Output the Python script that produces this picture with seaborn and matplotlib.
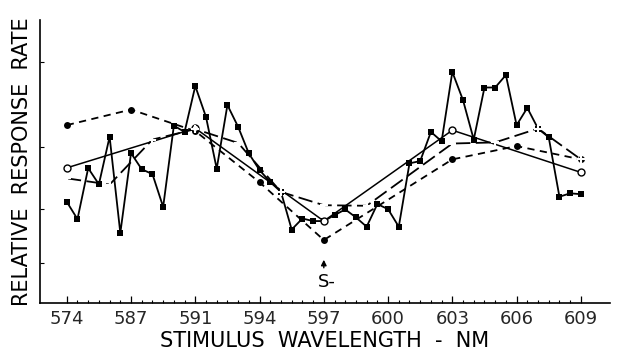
import matplotlib
matplotlib.use("Agg")
import matplotlib.pyplot as plt
import numpy as np
import seaborn as sns

sns.set_theme(style="white")
plt.rcParams['font.family'] = ['DejaVu Sans']

# x axis is an index of stimulus steps (6 steps between labelled wavelengths)
tick_steps = [0, 6, 12, 18, 24, 30, 36, 42, 48]
tick_labels = ['574', '587', '591', '594', '597', '600', '603', '606', '609']

# jagged gradient, solid line with filled squares (one point per step)
sq_steps = list(range(49))
sq_vals = [35.8, 29.7, 47.7, 42.0, 58.8, 24.8, 53.0, 47.3, 45.6, 34.0,
           62.7, 60.5, 76.7, 65.8, 47.5, 70.0, 62.3, 52.9, 47.0, 42.8,
           39.3, 26.0, 29.9, 29.0, 29.0, 31.1, 33.1, 30.3, 27.0, 35.0,
           33.2, 27.0, 49.4, 50.2, 60.5, 57.2, 81.7, 71.7, 57.8, 76.2,
           76.2, 80.6, 62.9, 69.0, 61.7, 58.6, 37.6, 38.8, 38.5]

# short-dashed, filled circles
dot_steps = [0, 6, 12, 18, 24, 36, 42, 48]
dot_vals = [62.9, 68.4, 60.8, 42.7, 22.3, 50.8, 55.5, 50.8]

# solid, open circles
open_steps = [0, 12, 24, 36, 48]
open_vals = [47.8, 61.8, 29.0, 61.1, 46.2]

# long-dashed, plus markers
plus_steps = [0, 4, 8, 12, 16, 20, 24, 28, 36, 40, 44, 48]
plus_vals = [44.1, 41.9, 57.8, 61.5, 56.6, 39.3, 34.6, 34.4, 56.4, 56.8, 61.7, 50.8]

# y positions of the small unlabelled ticks on the ordinate
ytick_vals = [14.1, 33.2, 55.1, 85.2]

fig = plt.figure(figsize=(6.2, 3.6), dpi=100)
ax = fig.add_axes([0.0645, 0.158, 0.919, 0.786])

sns.lineplot(x=sq_steps, y=sq_vals, ax=ax, color='black', lw=1.3,
             marker='s', markersize=4.5, markeredgewidth=0, sort=False, estimator=None)
sns.lineplot(x=dot_steps, y=dot_vals, ax=ax, color='black', lw=1.3,
             linestyle=(0, (4, 3)), marker='o', markersize=5, markeredgewidth=0,
             sort=False, estimator=None)
sns.lineplot(x=open_steps, y=open_vals, ax=ax, color='black', lw=1.1,
             marker='o', markersize=5, markerfacecolor='white',
             markeredgecolor='black', markeredgewidth=1.0, sort=False, estimator=None)
sns.lineplot(x=plus_steps, y=plus_vals, ax=ax, color='black', lw=1.3,
             linestyle=(0, (8, 3)), marker='+', markersize=6, markeredgewidth=1.5,
             sort=False, estimator=None)

ax.set_xlim(-2.5, 50.7)
ax.set_ylim(0, 100)

ax.set_xticks(tick_steps)
ax.set_xticklabels(tick_labels)
ax.set_xticks(sq_steps, minor=True)
ax.set_yticks(ytick_vals)
ax.set_yticklabels([])
ax.tick_params(axis='x', which='major', direction='in', length=5, width=0.9,
               labelsize=13, pad=5, bottom=True, color='black')
ax.tick_params(axis='x', which='minor', direction='in', length=2.5, width=0.8,
               bottom=True, color='black')
ax.tick_params(axis='y', direction='in', length=3, width=0.8, left=True, color='black')

for s in ['top', 'right']:
    ax.spines[s].set_visible(False)
for s in ['left', 'bottom']:
    ax.spines[s].set_color('black')
    ax.spines[s].set_linewidth(1.2)

ax.set_xlabel("STIMULUS  WAVELENGTH  -  NM", fontsize=15, labelpad=2, color='black')
ax.set_ylabel("RELATIVE  RESPONSE  RATE", fontsize=15, labelpad=2, color='black')

# S- marker under 597
ax.annotate('', xy=(24, 16.3), xytext=(24, 11.5),
            arrowprops=dict(arrowstyle='-|>', color='black', lw=1.0,
                            mutation_scale=8))
ax.text(23.4, 7.6, "S-", fontsize=13, ha='left', va='center', color='black')

fig.savefig("out.png", dpi=100)
plt.close(fig)
